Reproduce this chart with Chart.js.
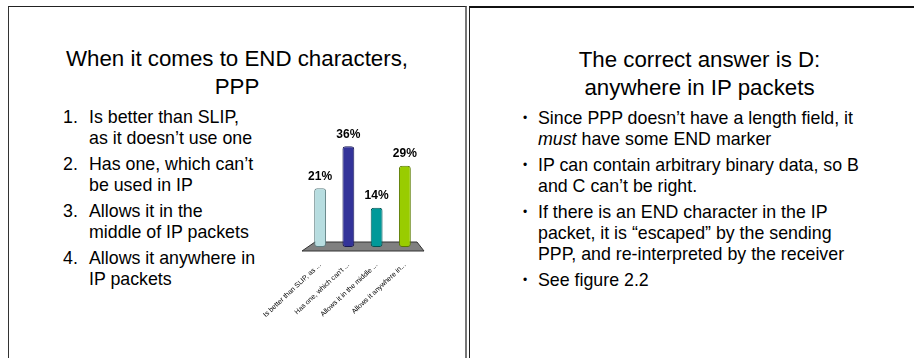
<!DOCTYPE html>
<html>
<head>
<meta charset="utf-8">
<script src="https://cdn.jsdelivr.net/npm/chart.js@4.4.1/dist/chart.umd.min.js"></script>
<style>
  html, body { margin: 0; padding: 0; background: #fff; }
  body { width: 914px; height: 358px; position: relative; overflow: hidden; font-family: "Liberation Sans", Arial, sans-serif; color: #000; }
  .slide { position: absolute; top: 6px; height: 360px; box-sizing: border-box; }
  #slideL { left: 8px; width: 459px; border-left: 1px solid #333; border-top: 1px solid #222; border-right: 2px solid #777; }
  #slideR { left: 469px; width: 460px; border-left: 1.5px solid #222; border-top: 2px solid #111; }
  .title { position: absolute; left: 0; right: 0; text-align: center; font-size: 22.3px; line-height: 28px; white-space: nowrap; }
  .list { position: absolute; font-size: 17.8px; line-height: 21px; white-space: nowrap; }
  .item { position: relative; margin-bottom: 5px; }
  .num { position: absolute; left: -26px; }
  .dot { position: absolute; left: -15px; font-size: 12px; }
  #chartBox { position: absolute; left: 250px; top: 120px; width: 190px; height: 200px; }
</style>
</head>
<body>
<div class="slide" id="slideL">
  <div class="title" style="top:38px;">When it comes to END characters,<br>PPP</div>
  <div class="list" style="left:80px; top:100px;">
    <div class="item"><span class="num">1.</span>Is better than SLIP,<br>as it doesn’t use one</div>
    <div class="item"><span class="num">2.</span>Has one, which can’t<br>be used in IP</div>
    <div class="item"><span class="num">3.</span>Allows it in the<br>middle of IP packets</div>
    <div class="item"><span class="num">4.</span>Allows it anywhere in<br>IP packets</div>
  </div>
</div>
<div class="slide" id="slideR">
  <div class="title" style="top:38px;">The correct answer is D:<br>anywhere in IP packets</div>
  <div class="list" style="left:68px; top:100px;">
    <div class="item"><span class="dot">•</span>Since PPP doesn’t have a length field, it<br><i>must</i> have some END marker</div>
    <div class="item"><span class="dot">•</span>IP can contain arbitrary binary data, so B<br>and C can’t be right.</div>
    <div class="item"><span class="dot">•</span>If there is an END character in the IP<br>packet, it is “escaped” by the sending<br>PPP, and re-interpreted by the receiver</div>
    <div class="item"><span class="dot">•</span>See figure 2.2</div>
  </div>
</div>
<div id="chartBox"><canvas id="pollChart" width="190" height="200"></canvas></div>

<script>
// answer options (truncated as on the slide) and vote shares in percent
const answerLabels = ['Is better than SLIP, as ...', 'Has one, which can\'t ...', 'Allows it in the middle ...', 'Allows it anywhere in...'];
const votePercents = [21, 36, 14, 29];
const barColors = ['#b7dde0', '#333399', '#009999', '#99cc00'];
const barEdges = ['#5f7f82', '#1a1a55', '#005555', '#5a7a00'];

// grey 3D floor under the bars
const floorPlugin = {
  id: 'floor',
  beforeDatasetsDraw(chart) {
    const { ctx, chartArea } = chart;
    const y0 = chart.scales.y.getPixelForValue(0);
    ctx.save();
    ctx.beginPath();
    ctx.moveTo(chartArea.left + 9, y0 - 5);
    ctx.lineTo(chartArea.right - 2, y0 - 5);
    ctx.lineTo(chartArea.right + 5, y0 + 4);
    ctx.lineTo(chartArea.left - 4, y0 + 4);
    ctx.closePath();
    ctx.fillStyle = '#808080';
    ctx.fill();
    ctx.strokeStyle = '#333';
    ctx.lineWidth = 1;
    ctx.stroke();
    ctx.restore();
  }
};

// percentage labels above each bar
const valueLabels = {
  id: 'valueLabels',
  afterDatasetsDraw(chart) {
    const { ctx } = chart;
    const meta = chart.getDatasetMeta(0);
    ctx.save();
    ctx.font = 'bold 12px "Liberation Sans", Arial, sans-serif';
    ctx.fillStyle = '#000';
    ctx.textAlign = 'center';
    ctx.textBaseline = 'bottom';
    meta.data.forEach((bar, i) => {
      ctx.fillText(votePercents[i] + '%', bar.x, bar.y - 6);
    });
    ctx.restore();
  }
};

new Chart(document.getElementById('pollChart'), {
  type: 'bar',
  data: {
    labels: answerLabels,
    datasets: [{
      data: votePercents,
      backgroundColor: barColors,
      borderColor: barEdges,
      borderWidth: 1,
      borderRadius: 3,
      borderSkipped: false,
      barPercentage: 0.42,
      categoryPercentage: 1
    }]
  },
  options: {
    responsive: false,
    animation: false,
    layout: { padding: { left: 56, right: 21, top: 15, bottom: 0 } },
    plugins: { legend: { display: false }, tooltip: { enabled: false } },
    scales: {
      x: {
        grid: { display: false },
        border: { display: false },
        ticks: {
          autoSkip: false, minRotation: 43, maxRotation: 43, padding: 6,
          color: '#000', font: { size: 7, family: '"Liberation Sans", Arial, sans-serif' }
        },
        afterFit(scale) { scale.paddingLeft = 0; scale.paddingRight = 0; scale.height = 73; }
      },
      y: { display: false, min: 0, max: 40 }
    }
  },
  plugins: [floorPlugin, valueLabels]
});
</script>
</body>
</html>
